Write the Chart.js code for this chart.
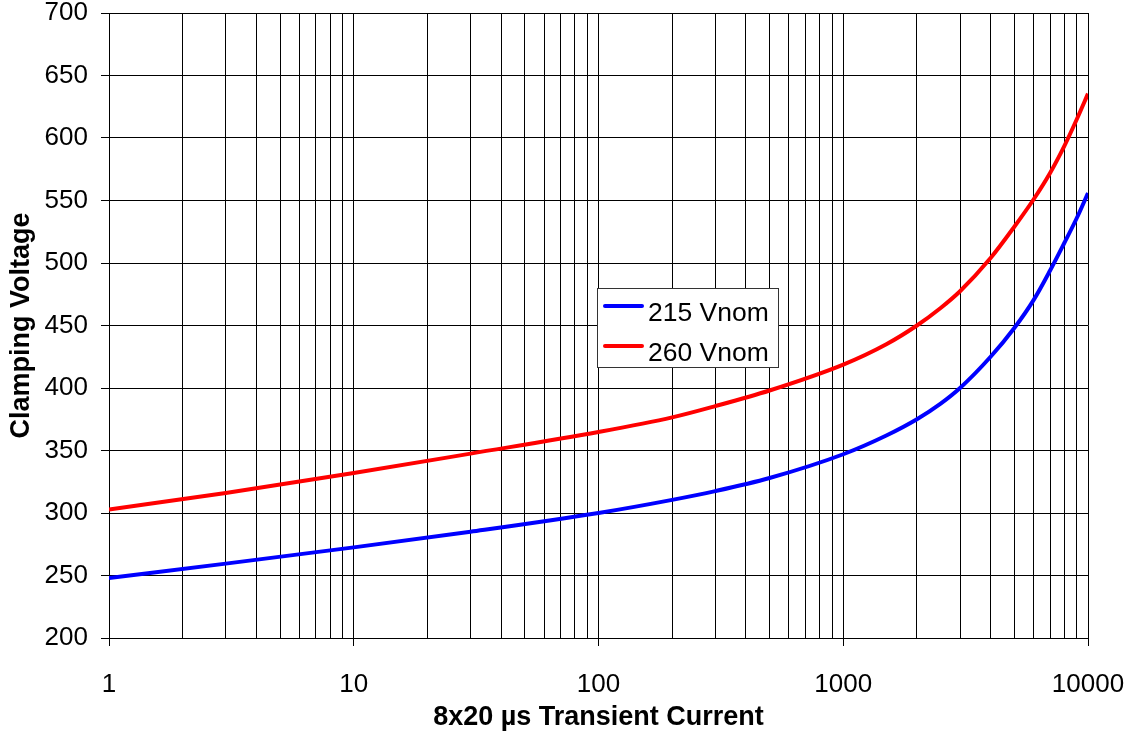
<!DOCTYPE html>
<html>
<head>
<meta charset="utf-8">
<title>Clamping Voltage vs 8x20 µs Transient Current</title>
<script src="https://cdn.jsdelivr.net/npm/chart.js@4/dist/chart.umd.min.js"></script>
<style>
  html, body { margin: 0; padding: 0; background: #fff; }
  #wrap { width: 1131px; height: 742px; }
</style>
</head>
<body>
<div id="wrap"><canvas id="chart" width="1131" height="742"></canvas></div>
<script>
// Surge current (A, 8x20 µs waveform)
const currents = [1, 3, 10, 30, 100, 200, 300, 500, 1000, 1500, 2000, 2500, 3000, 4000, 5000, 6000, 7000, 8000, 9000, 10000];
// Clamping voltage (V) for each rating
const v215 = [248, 259.5, 272.5, 285, 300, 310.5, 317.5, 328, 347, 362, 375, 387.5, 400, 425, 448, 470.5, 494, 516, 536, 556];
const v260 = [302.8, 316, 332, 347.5, 364.8, 376.5, 385.5, 398, 418.7, 435, 450, 464, 477.4, 504, 529, 551, 572, 593.5, 615, 635.5];

const seriesLabels = ['215 Vnom', '260 Vnom'];
const seriesColors = ['#0000FF', '#FF0000'];

// Axis ticks
const xLabelValues = [1, 10, 100, 1000, 10000];
const yTickValues = [200, 250, 300, 350, 400, 450, 500, 550, 600, 650, 700];

const FONT = '"Liberation Sans", Arial, Helvetica, sans-serif';

// Every 1..9 multiple of each decade gets a grid line
function logGridValues(lo, hi) {
  const out = [];
  for (let d = lo; d < hi; d *= 10) {
    for (let m = 1; m < 10; m++) out.push(m * d);
  }
  out.push(hi);
  return out;
}

// Legend box drawn inside the plot
const boxLegend = {
  id: 'boxLegend',
  afterDatasetsDraw(chart) {
    const ctx = chart.ctx;
    const bx = 597, by = 288, bw = 181, bh = 79;
    ctx.save();
    ctx.fillStyle = '#fff';
    ctx.fillRect(bx, by, bw, bh);
    ctx.strokeStyle = '#333';
    ctx.lineWidth = 1;
    ctx.strokeRect(bx + 0.5, by + 0.5, bw, bh);
    chart.data.datasets.forEach((ds, i) => {
      const ly = 306 + i * 40;
      ctx.strokeStyle = ds.borderColor;
      ctx.lineWidth = 4;
      ctx.lineCap = 'round';
      ctx.beginPath();
      ctx.moveTo(605, ly);
      ctx.lineTo(642, ly);
      ctx.stroke();
      ctx.fillStyle = '#000';
      ctx.font = '26.5px ' + FONT;
      ctx.textAlign = 'left';
      ctx.textBaseline = 'middle';
      ctx.fillText(ds.label, 648, ly + 8);
    });
    ctx.restore();
  }
};

const datasets = [v215, v260].map((vals, i) => ({
  label: seriesLabels[i],
  data: currents.map((c, k) => ({ x: c, y: vals[k] })),
  borderColor: seriesColors[i],
  backgroundColor: seriesColors[i],
  borderWidth: 4,
  pointRadius: 0,
  cubicInterpolationMode: 'monotone',
  fill: false
}));

new Chart(document.getElementById('chart'), {
  type: 'line',
  data: { datasets },
  options: {
    responsive: false,
    animation: false,
    layout: { padding: { left: 0, right: 43, top: 13, bottom: 0 } },
    plugins: {
      legend: { display: false },
      tooltip: { enabled: false }
    },
    scales: {
      x: {
        type: 'logarithmic',
        min: 1,
        max: 10000,
        afterFit(scale) {
          scale.height = 104;
          scale.paddingLeft = 0;
          scale.paddingRight = 0;
        },
        afterBuildTicks(scale) {
          scale.ticks = logGridValues(1, 10000).map(v => ({ value: v, major: xLabelValues.includes(v) }));
        },
        border: { display: true, color: '#000', width: 1 },
        grid: {
          color: '#000',
          lineWidth: 1,
          tickLength: 8,
          tickColor: ctx => (ctx.tick && xLabelValues.includes(ctx.tick.value)) ? '#000' : 'rgba(0,0,0,0)'
        },
        ticks: {
          autoSkip: false,
          maxRotation: 0,
          padding: 23,
          color: '#000',
          font: { family: FONT, size: 26 },
          callback: v => xLabelValues.includes(v) ? String(v) : ''
        },
        title: {
          display: true,
          text: '8x20 µs Transient Current',
          color: '#000',
          font: { family: FONT, size: 27, weight: 'bold' },
          padding: { top: 0, bottom: 8 }
        }
      },
      y: {
        min: 200,
        max: 700,
        afterFit(scale) {
          scale.width = 109;
          scale.paddingTop = 0;
          scale.paddingBottom = 0;
        },
        afterBuildTicks(scale) {
          scale.ticks = yTickValues.map(v => ({ value: v }));
        },
        border: { display: true, color: '#000', width: 1 },
        grid: { color: '#000', lineWidth: 1, tickLength: 8, tickColor: '#000' },
        ticks: {
          padding: 13,
          color: '#000',
          font: { family: FONT, size: 26 },
          callback: v => String(v)
        },
        title: {
          display: true,
          text: 'Clamping Voltage',
          color: '#000',
          font: { family: FONT, size: 27, weight: 'bold' },
          padding: { top: 5, bottom: 0 }
        }
      }
    }
  },
  plugins: [boxLegend]
});
</script>
</body>
</html>
